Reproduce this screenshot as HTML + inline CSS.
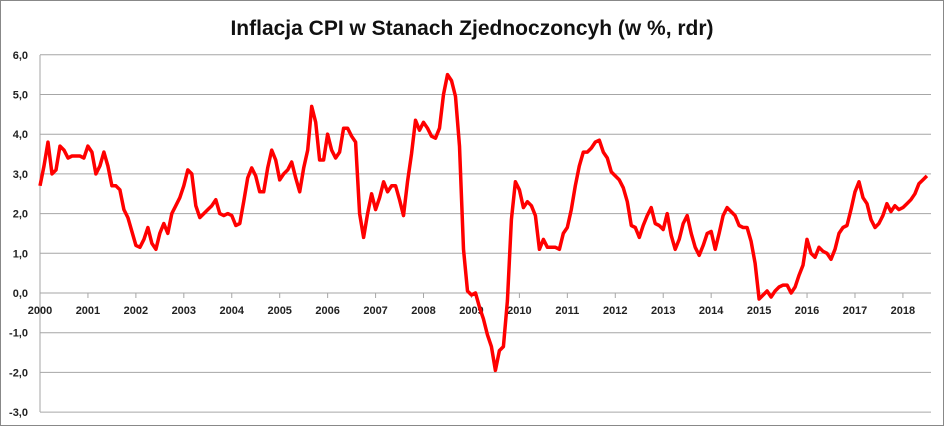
<!DOCTYPE html>
<html><head><meta charset="utf-8"><style>
body{margin:0;background:#fff;}
svg{display:block;font-family:"Liberation Sans",sans-serif;}
</style></head><body>
<svg id="s" width="945" height="427" xmlns="http://www.w3.org/2000/svg">
<rect x="0.5" y="0.5" width="943" height="425" fill="#fff" stroke="#888"/>
<text x="472" y="35" text-anchor="middle" font-size="21" font-weight="bold" fill="#111">Inflacja CPI w Stanach Zjednoczoncyh (w %, rdr)</text>
<g id="g"></g>
</svg>
<script>
var d=[2.7,3.2,3.8,3.0,3.1,3.7,3.6,3.4,3.45,3.45,3.45,3.4,
3.7,3.55,3.0,3.2,3.55,3.2,2.7,2.7,2.6,2.1,1.9,1.55,
1.2,1.15,1.35,1.65,1.25,1.1,1.5,1.75,1.5,2.0,2.2,2.4,
2.7,3.1,3.0,2.2,1.9,2.0,2.1,2.2,2.35,2.0,1.95,2.0,
1.95,1.7,1.75,2.3,2.9,3.15,2.95,2.55,2.55,3.15,3.6,3.35,
2.85,3.0,3.1,3.3,2.9,2.55,3.15,3.6,4.7,4.3,3.35,3.35,
4.0,3.6,3.4,3.55,4.15,4.15,3.95,3.8,2.0,1.4,2.0,2.5,
2.1,2.4,2.8,2.55,2.7,2.7,2.35,1.95,2.8,3.5,4.35,4.1,
4.3,4.15,3.95,3.9,4.15,5.0,5.5,5.35,4.95,3.7,1.1,0.05,
-0.05,0.0,-0.35,-0.65,-1.05,-1.35,-1.95,-1.45,-1.35,-0.2,1.85,2.8,
2.6,2.15,2.3,2.2,1.95,1.1,1.35,1.15,1.15,1.15,1.1,1.5,
1.65,2.1,2.7,3.2,3.55,3.55,3.65,3.8,3.85,3.55,3.4,3.05,
2.95,2.85,2.65,2.3,1.7,1.65,1.4,1.7,1.95,2.15,1.75,1.7,
1.6,2.0,1.45,1.1,1.35,1.75,1.95,1.5,1.15,0.95,1.2,1.5,
1.55,1.1,1.5,1.95,2.15,2.05,1.95,1.7,1.65,1.65,1.3,0.75,
-0.15,-0.05,0.05,-0.1,0.05,0.15,0.2,0.2,0.0,0.15,0.45,0.7,
1.35,1.0,0.9,1.15,1.05,1.0,0.85,1.1,1.5,1.65,1.7,2.1,
2.55,2.8,2.4,2.25,1.85,1.65,1.75,1.95,2.25,2.05,2.2,2.1,
2.15,2.25,2.35,2.5,2.75,2.85,2.95];
var x0=40,yw=47.94,y0=293,u=39.7,h='';
for(var v=6;v>=-3;v--){var y=y0-v*u;h+='<line x1="'+(x0)+'" x2="931" y1="'+y+'" y2="'+y+'" stroke="#a6a6a6" stroke-width="1"/>';
h+='<text x="28" y="'+(y+4)+'" text-anchor="end" font-size="11" font-weight="bold" fill="#222">'+(v<0?'-':'')+Math.abs(v)+',0</text>';}
h+='<line x1="40" x2="40" y1="55" y2="412" stroke="#a6a6a6"/>';
for(var k=0;k<=18;k++){var x=x0+k*yw;h+='<line x1="'+x+'" x2="'+x+'" y1="293" y2="298" stroke="#a6a6a6"/>';
h+='<text x="'+x+'" y="314" text-anchor="middle" font-size="11" font-weight="bold" fill="#222">'+(2000+k)+'</text>';}
var p=[];for(var i=0;i<d.length;i++)p.push((x0+i*yw/12).toFixed(1)+','+(y0-d[i]*u).toFixed(1));
h+='<polyline points="'+p.join(' ')+'" fill="none" stroke="#ff0000" stroke-width="3.5" stroke-linejoin="round"/>';
document.getElementById('g').innerHTML=h;
</script>
</body></html>
